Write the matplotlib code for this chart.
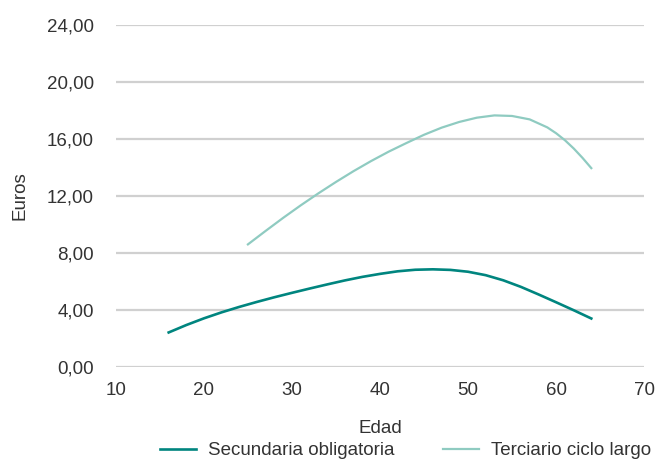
import matplotlib.pyplot as plt
from matplotlib.ticker import FuncFormatter

plt.rcParams['font.family'] = ['Liberation Sans', 'DejaVu Sans']

# salario por hora segun edad, por nivel educativo
edad_sec = [16, 18, 20, 22, 24, 26, 28, 30, 32, 34, 36, 38, 40,
            42, 44, 46, 48, 50, 52, 54, 56, 58, 60, 62, 64]
euros_sec = [2.42, 2.94, 3.41, 3.83, 4.21, 4.56, 4.89, 5.20, 5.50, 5.79,
             6.07, 6.32, 6.53, 6.71, 6.82, 6.85, 6.81, 6.68, 6.44, 6.08,
             5.62, 5.09, 4.54, 3.98, 3.40]

edad_ter = [25, 27, 29, 31, 33, 35, 37, 39, 41, 43, 45, 47, 49,
            51, 53, 55, 57, 59, 60, 61, 62, 63, 64]
euros_ter = [8.60, 9.54, 10.46, 11.34, 12.18, 12.98, 13.74, 14.45, 15.11,
             15.71, 16.29, 16.79, 17.19, 17.49, 17.65, 17.61, 17.37, 16.81,
             16.40, 15.91, 15.33, 14.67, 13.95]

COLOR_SEC = '#00857f'
COLOR_TER = '#8fcbc1'
TEXT = '#333333'
FS = 13.5


def main():
    fig = plt.figure(figsize=(6.62, 4.61), dpi=100)
    ax = fig.add_axes([0.175, 0.204, 0.798, 0.742])

    ax.plot(edad_sec, euros_sec, color=COLOR_SEC, lw=1.9,
            label='Secundaria obligatoria')
    ax.plot(edad_ter, euros_ter, color=COLOR_TER, lw=1.6,
            label='Terciario ciclo largo')

    ax.set_xlim(10, 70)
    ax.set_ylim(0, 24)
    ax.set_xticks(range(10, 71, 10))
    ax.set_yticks(range(0, 25, 4))
    ax.yaxis.set_major_formatter(
        FuncFormatter(lambda v, _: f'{v:.2f}'.replace('.', ',')))

    ax.grid(axis='y', color='#d0d0d0', lw=1.6)
    ax.set_axisbelow(True)
    for s in ax.spines.values():
        s.set_visible(False)
    ax.tick_params(length=0, labelsize=FS, colors=TEXT)
    ax.tick_params(axis='x', pad=11)
    ax.tick_params(axis='y', pad=16)

    ax.set_xlabel('Edad', fontsize=FS, color=TEXT, labelpad=15)
    ax.set_ylabel('Euros', fontsize=FS, color=TEXT, labelpad=13)

    fig.legend(loc='lower left', bbox_to_anchor=(160 / 662, 0.004), ncol=2,
               frameon=False, fontsize=FS, handlelength=1.9,
               handletextpad=0.65, columnspacing=2.6, borderpad=0,
               borderaxespad=0, labelcolor=TEXT)

    fig.savefig('out.png', dpi=100)


if __name__ == '__main__':
    main()
